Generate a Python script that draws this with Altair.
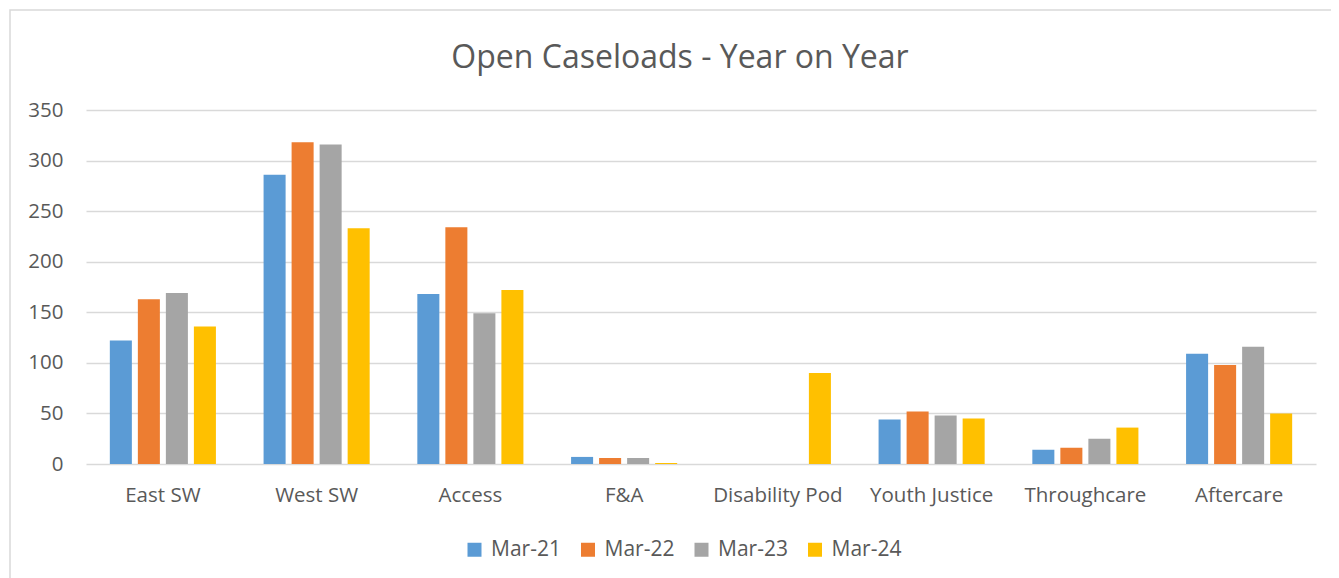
import altair as alt
import pandas as pd

categories = ["East SW", "West SW", "Access", "F&A", "Disability Pod", "Youth Justice", "Throughcare", "Aftercare"]
series = ["Mar-21", "Mar-22", "Mar-23", "Mar-24"]
mar21 = [122, 286, 168, 7, 0, 44, 14, 109]
mar22 = [163, 318, 234, 6, 0, 52, 16, 98]
mar23 = [169, 316, 149, 6, 0, 48, 25, 116]
mar24 = [136, 233, 172, 1, 90, 45, 36, 50]
colors = ["#5B9BD5", "#ED7D31", "#A5A5A5", "#FFC000"]

rows = []
for s, vals in zip(series, [mar21, mar22, mar23, mar24]):
    for c, v in zip(categories, vals):
        rows.append({"Category": c, "Series": s, "Value": v})
df = pd.DataFrame(rows)

FONT = "Open Sans"
TXT = "#595959"

bars = alt.Chart(df).mark_bar().encode(
    x=alt.X("Category:N", sort=categories, title=None,
            scale=alt.Scale(paddingInner=0.31, paddingOuter=0.155),
            axis=alt.Axis(labelAngle=0, domain=False, ticks=False, labelPadding=21,
                          labelFontSize=20.5, labelColor=TXT, labelFont=FONT, grid=False)),
    xOffset=alt.XOffset("Series:N", sort=series,
                        scale=alt.Scale(paddingInner=0.214, paddingOuter=0)),
    y=alt.Y("Value:Q", title=None,
            scale=alt.Scale(domain=[0, 350], nice=False),
            axis=alt.Axis(values=[0, 50, 100, 150, 200, 250, 300, 350], domain=False, ticks=False,
                          labelPadding=23, labelFontSize=20.5, labelColor=TXT, labelFont=FONT,
                          gridColor="#D9D9D9", gridWidth=1.5)),
    color=alt.Color("Series:N", sort=series,
                    scale=alt.Scale(domain=series, range=colors),
                    legend=alt.Legend(title=None, orient="none", direction="horizontal",
                                      legendX=378, legendY=429, symbolType="square",
                                      symbolSize=196, symbolStrokeWidth=0, labelFontSize=21,
                                      labelColor=TXT, labelFont=FONT, labelOffset=6,
                                      columnPadding=16.5)),
)

frame_df = pd.DataFrame({"k": [0]})
frame = alt.Chart(frame_df).mark_rect(fill=None, stroke="#D9D9D9", strokeWidth=1.5, clip=False).encode(
    x=alt.value(-76), x2=alt.value(1260), y=alt.value(-100), y2=alt.value(520)
)

chart = alt.layer(frame, bars).properties(
    width=1230, height=354,
    autosize=alt.AutoSizeParams(type="none"),
    padding={"left": 78, "top": 102, "right": 15, "bottom": 130},
    title=alt.Title("Open Caseloads - Year on Year", fontSize=32, font=FONT, color=TXT,
                    fontWeight="normal", anchor="middle", offset=-66, dx=-21),
).configure_view(stroke=None)

chart.save("out.html", embed_options={"renderer": "svg", "actions": False})
